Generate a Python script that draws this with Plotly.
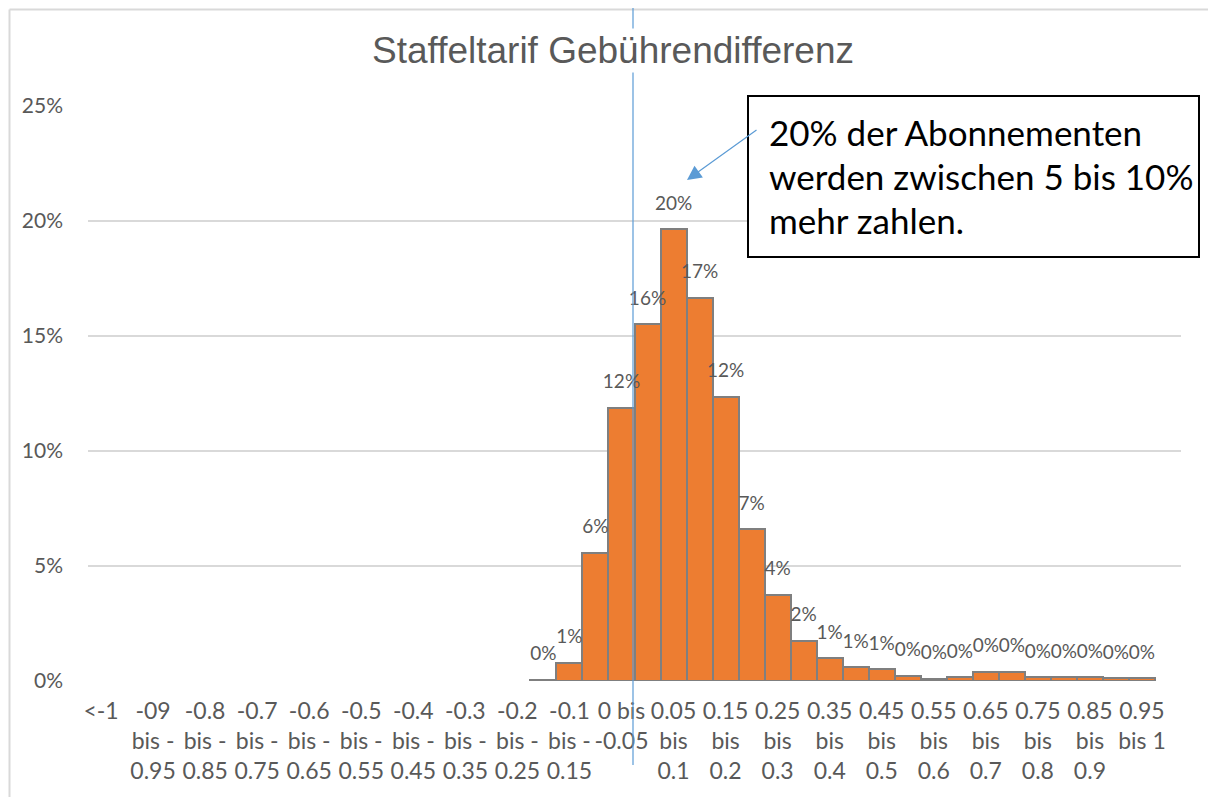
import plotly.graph_objects as go

# ---------------- data ----------------
categories = [
    "<-1", "-0.95 bis -1", "-0.9 bis -0.95", "-0.85 bis -0.9", "-0.8 bis -0.85",
    "-0.75 bis -0.8", "-0.7 bis -0.75", "-0.65 bis -0.7", "-0.6 bis -0.65",
    "-0.55 bis -0.6", "-0.5 bis -0.55", "-0.45 bis -0.5", "-0.4 bis -0.45",
    "-0.35 bis -0.4", "-0.3 bis -0.35", "-0.25 bis -0.3", "-0.2 bis -0.25",
    "-0.15 bis -0.2", "-0.1 bis -0.15", "-0.05 bis -0.1", "0 bis -0.05",
    "0 bis 0.05", "0.05 bis 0.1", "0.1 bis 0.15", "0.15 bis 0.2",
    "0.2 bis 0.25", "0.25 bis 0.3", "0.3 bis 0.35", "0.35 bis 0.4",
    "0.4 bis 0.45", "0.45 bis 0.5", "0.5 bis 0.55", "0.55 bis 0.6",
    "0.6 bis 0.65", "0.65 bis 0.7", "0.7 bis 0.75", "0.75 bis 0.8",
    "0.8 bis 0.85", "0.85 bis 0.9", "0.9 bis 0.95", "0.95 bis 1", ">1",
]

shares = [
    None, None, None, None, None, None, None, None, None, None, None, None,
    None, None, None, None, None,
    0.0005, 0.008, 0.0557, 0.1187, 0.1552, 0.1965, 0.1667, 0.1235, 0.066,
    0.0374, 0.0174, 0.010, 0.006, 0.0052, 0.0022, 0.0009, 0.0017, 0.004,
    0.004, 0.0017, 0.0017, 0.0017, 0.0013, 0.0013,
    None,
]

tick_categories = [
    "<-1", "-0.9 bis -0.95", "-0.8 bis -0.85", "-0.7 bis -0.75",
    "-0.6 bis -0.65", "-0.5 bis -0.55", "-0.4 bis -0.45", "-0.3 bis -0.35",
    "-0.2 bis -0.25", "-0.1 bis -0.15", "0 bis -0.05", "0.05 bis 0.1",
    "0.15 bis 0.2", "0.25 bis 0.3", "0.35 bis 0.4", "0.45 bis 0.5",
    "0.55 bis 0.6", "0.65 bis 0.7", "0.75 bis 0.8", "0.85 bis 0.9",
    "0.95 bis 1",
]
tick_labels = [
    "&lt;-1", "-09<br>bis -<br>0.95", "-0.8<br>bis -<br>0.85", "-0.7<br>bis -<br>0.75",
    "-0.6<br>bis -<br>0.65", "-0.5<br>bis -<br>0.55", "-0.4<br>bis -<br>0.45",
    "-0.3<br>bis -<br>0.35", "-0.2<br>bis -<br>0.25", "-0.1<br>bis -<br>0.15",
    "0 bis<br>-0.05", "0.05<br>bis<br>0.1", "0.15<br>bis<br>0.2", "0.25<br>bis<br>0.3",
    "0.35<br>bis<br>0.4", "0.45<br>bis<br>0.5", "0.55<br>bis<br>0.6", "0.65<br>bis<br>0.7",
    "0.75<br>bis<br>0.8", "0.85<br>bis<br>0.9", "0.95<br>bis 1",
]

y_ticks = [0, 0.05, 0.10, 0.15, 0.20, 0.25]

title_text = "Staffeltarif Gebührendifferenz"
note_lines = ["20% der Abonnementen", "werden zwischen 5 bis 10%", "mehr zahlen."]

# ---------------- layout geometry (pixels, in screenshot coordinates) ----------------
OFF = 8                      # default page body margin
W, H = 1216 - OFF, 797 - OFF
PL, PR, PT, PB = 88, 1181, 106, 681   # plot area edges in the screenshot


def px(x):
    return (x - PL) / (PR - PL)


def py(y):
    return (PB - y) / (PB - PT)


GRAY = "#595959"
FONT = "Lato"

fig = go.Figure()

fig.add_trace(go.Bar(
    x=categories, y=shares,
    marker=dict(color="#ED7D31", line=dict(color="#7F7F7F", width=2)),
    hoverinfo="skip",
))

fig.add_trace(go.Scatter(
    x=categories, y=shares,
    mode="markers+text",
    marker=dict(size=22, color="rgba(0,0,0,0)"),
    texttemplate="%{y:.0%}",
    textposition="top center",
    textfont=dict(family=FONT, size=19, color=GRAY),
    cliponaxis=False,
    hoverinfo="skip",
))

fig.update_layout(
    width=W, height=H, autosize=False,
    margin=dict(l=PL - OFF, r=1216 - PR, t=PT - OFF, b=797 - PB, pad=0),
    paper_bgcolor="white", plot_bgcolor="white",
    showlegend=False, bargap=0,
    font=dict(family=FONT, color=GRAY),
)

fig.update_xaxes(
    type="category", categoryorder="array", categoryarray=categories,
    range=[-0.5, len(categories) - 0.5],
    tickmode="array", tickvals=tick_categories, ticktext=tick_labels,
    tickangle=0, ticks="", showgrid=False, zeroline=False, showline=False,
    tickfont=dict(family=FONT, size=23, color=GRAY),
    ticklabelstandoff=14,
)

fig.update_yaxes(
    range=[0, 0.25], tickmode="array", tickvals=y_ticks, tickformat=".0%",
    showgrid=True, gridcolor="#D9D9D9", gridwidth=1.5,
    zeroline=False, showline=False, ticks="",
    tickfont=dict(family=FONT, size=21, color=GRAY),
    ticklabelstandoff=24,
)

shapes = [
    # outer chart border (left and top edges visible)
    dict(type="line", xref="paper", yref="paper",
         x0=px(OFF + 1.5), x1=px(OFF + 1.5), y0=py(797 + 30), y1=py(OFF + 1.5),
         line=dict(color="#D9D9D9", width=2), layer="above"),
    dict(type="line", xref="paper", yref="paper",
         x0=px(OFF + 1.5), x1=px(1216 + 30), y0=py(OFF + 1.5), y1=py(OFF + 1.5),
         line=dict(color="#D9D9D9", width=2), layer="above"),
    # vertical blue line
    dict(type="line", xref="paper", yref="paper",
         x0=px(633), x1=px(633), y0=py(765), y1=py(0),
         line=dict(color="#5B9BD5", width=1.2)),
    # note box
    dict(type="rect", xref="paper", yref="paper",
         x0=px(748), x1=px(1199), y0=py(257), y1=py(96),
         line=dict(color="black", width=2), fillcolor="white"),
]

annotations = [
    dict(text=title_text, xref="paper", yref="paper", x=px(613), y=py(50),
         xanchor="center", yanchor="middle", showarrow=False,
         font=dict(family="Liberation Sans", size=37, color=GRAY),
         bgcolor="white"),
    dict(text="", xref="paper", yref="paper", x=px(687), y=py(180),
         showarrow=True, ax=71, ay=-51, arrowcolor="#5B9BD5",
         arrowhead=2, arrowsize=2.4, arrowwidth=1.2),
]
for line, yc in zip(note_lines, [132, 176, 220]):
    annotations.append(dict(
        text=line, xref="paper", yref="paper", x=px(767), y=py(yc),
        xanchor="left", yanchor="middle", showarrow=False,
        font=dict(family=FONT, size=35, color="black"),
    ))

fig.update_layout(shapes=shapes, annotations=annotations)

fig.write_html("out.html")
